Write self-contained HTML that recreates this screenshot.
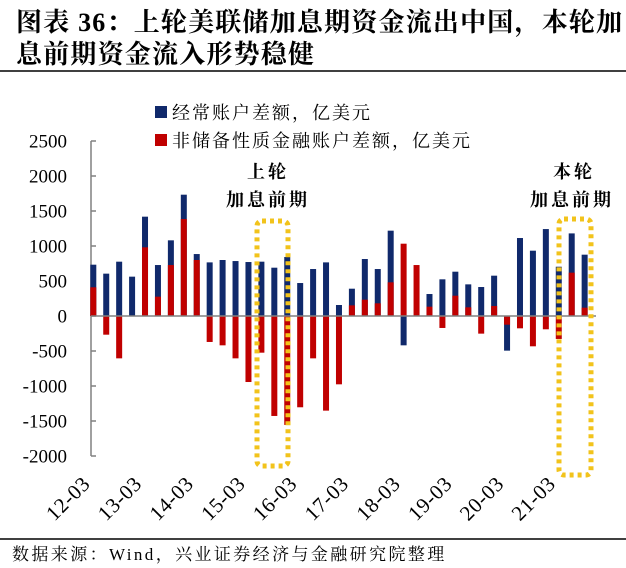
<!DOCTYPE html>
<html><head><meta charset="utf-8"><style>
body{margin:0;background:#fff;}
svg{display:block;font-family:"Liberation Serif","Noto Serif CJK SC",serif;}
</style></head><body>
<svg width="626" height="568" viewBox="0 0 626 568">
<text x="16" y="31" font-size="26" font-weight="bold" letter-spacing="1.2">图表 36：上轮美联储加息期资金流出中国，本轮加</text>
<text x="16" y="63" font-size="26" font-weight="bold" letter-spacing="1.2">息前期资金流入形势稳健</text>
<line x1="0" y1="71" x2="626" y2="71" stroke="#000" stroke-width="1.5"/>
<g id="plot"></g>
<rect x="155" y="106" width="12" height="12" fill="#10296b"/>
<text x="172" y="119" font-size="18" letter-spacing="2">经常账户差额，亿美元</text>
<rect x="155" y="134" width="12" height="12" fill="#c00000"/>
<text x="172" y="147" font-size="18" letter-spacing="2">非储备性质金融账户差额，亿美元</text>
<text x="268" y="178" font-size="18" font-weight="bold" letter-spacing="3" text-anchor="middle">上轮</text>
<text x="268" y="206" font-size="18" font-weight="bold" letter-spacing="3" text-anchor="middle">加息前期</text>
<text x="574" y="178" font-size="18" font-weight="bold" letter-spacing="3" text-anchor="middle">本轮</text>
<text x="572" y="206" font-size="18" font-weight="bold" letter-spacing="3" text-anchor="middle">加息前期</text>
<line x1="0" y1="539" x2="626" y2="539" stroke="#000" stroke-width="1.5"/>
<text x="12" y="560" font-size="17" letter-spacing="2.4">数据来源：Wind，兴业证券经济与金融研究院整理</text>
</svg>
<script>
const currentAccount=[733,605,776,562,1419,728,1081,1733,885,766,800,785,771,776,690,843,471,671,766,157,390,814,671,1219,-419,10,314,524,633,452,414,576,-495,1114,933,1242,704,1180,876];
const financialAccount=[410,-267,-605,5,981,276,728,1385,800,-371,-419,-605,-943,-524,-1428,-1556,-1304,-605,-1352,-976,152,233,181,481,1033,728,133,-171,290,124,-252,143,-124,-176,-433,-190,-328,619,119];
const yTicks=[2500,2000,1500,1000,500,0,-500,-1000,-1500,-2000];
const xLabels=["12-03","13-03","14-03","15-03","16-03","17-03","18-03","19-03","20-03","21-03"];
const NS="http://www.w3.org/2000/svg";
const plot=document.getElementById('plot');
function y(v){return 316-v*0.07;}
function x(i){return 93.3+i*12.93;}
function mk(tag,attrs){const e=document.createElementNS(NS,tag);for(const k in attrs)e.setAttribute(k,attrs[k]);plot.appendChild(e);return e;}
let ax=mk('line',{x1:91,y1:y(2500),x2:91,y2:y(-2000),stroke:'#808080','stroke-width':1.5});


yTicks.forEach(v=>{
  let t=mk('line',{x1:91,y1:y(v),x2:96,y2:y(v),stroke:'#808080','stroke-width':1.5});
  
  
  let l=mk('text',{x:67,y:y(v)+6.5,'font-size':19,'text-anchor':'end'});
  l.textContent=v;
  
  
});
currentAccount.forEach((v,i)=>{
  let r=mk('rect',{x:x(i)-3,y:Math.min(y(v),y(0)),width:6,height:Math.abs(y(v)-y(0)),fill:'#10296b'});
  
  
});
financialAccount.forEach((v,i)=>{
  let r=mk('rect',{x:x(i)-3,y:Math.min(y(v),y(0)),width:6,height:Math.abs(y(v)-y(0)),fill:'#c00000'});
  
  
});
let z=mk('line',{x1:91,y1:y(0),x2:596,y2:y(0),stroke:'#808080','stroke-width':1.5});


xLabels.forEach((s,k)=>{
  const cx=x(k*4)-2, cy=485;
  let t=mk('text',{x:cx,y:cy,'font-size':21,'letter-spacing':0.6,'text-anchor':'end',transform:`rotate(-45 ${cx} ${cy})`});
  t.textContent=s;
  
  
});
let b1=mk('rect',{x:257,y:221,width:31,height:245,rx:5,fill:'none',stroke:'#f2c31b','stroke-width':5,'stroke-dasharray':'4 4'});


let b2=mk('rect',{x:559,y:219,width:32,height:256,rx:5,fill:'none',stroke:'#f2c31b','stroke-width':5,'stroke-dasharray':'4 4'});


</script>
</body></html>
